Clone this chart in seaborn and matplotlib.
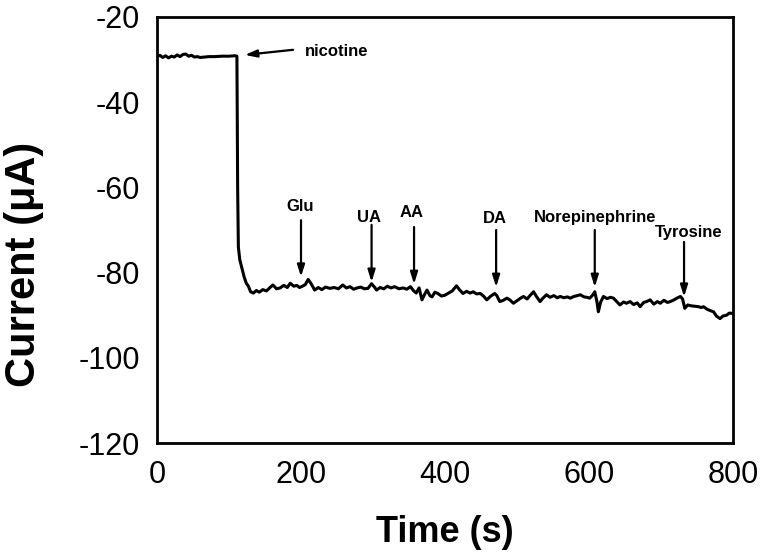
import matplotlib
matplotlib.use("Agg")
import matplotlib.pyplot as plt
import pandas as pd
import numpy as np
import seaborn as sns
from matplotlib.ticker import MultipleLocator

# amperometric trace
time_s = [0, 4, 8, 12, 16, 20, 24, 28, 32, 36, 40, 44, 48, 52, 56, 60, 66, 72, 80, 90, 100, 108, 111,
          112, 113, 115, 118, 121, 124, 127, 130, 134, 138, 142, 147, 152, 157, 161, 166, 171, 176,
          181, 185, 190, 194, 198, 202, 206, 210, 214, 219, 224, 229, 234, 240, 246, 252, 258, 263,
          268, 273, 278, 283, 288, 293, 298, 302, 305, 310, 315, 320, 325, 330, 336, 342, 347, 352,
          356, 360, 364, 368, 372, 375, 379, 382, 386, 390, 395, 400, 405, 410, 416, 420, 425, 430,
          435, 439, 444, 449, 454, 458, 463, 469, 472, 476, 481, 486, 490, 495, 500, 505, 509, 514,
          518, 523, 527, 532, 536, 541, 546, 551, 556, 560, 565, 570, 574, 579, 584, 588, 593, 597,
          601, 605, 608, 611, 613, 616, 620, 625, 630, 634, 639, 643, 648, 652, 657, 662, 667, 671,
          676, 680, 685, 690, 695, 699, 704, 709, 713, 718, 722, 727, 730, 733, 737, 742, 747, 752,
          756, 759, 764, 768, 773, 777, 782, 786, 791, 795, 800]
current_ua = [-29.3, -29.0, -29.5, -29.1, -29.6, -29.2, -29.4, -28.9, -29.3, -28.8, -28.7, -29.2,
              -29.0, -29.4, -29.3, -29.5, -29.4, -29.3, -29.3, -29.2, -29.2, -29.1, -29.2,
              -60.0, -74.0, -77.0, -79.0, -81.0, -82.5, -83.2, -84.5, -84.8, -84.2, -84.6, -84.0,
              -84.3, -83.5, -82.9, -83.8, -83.6, -83.0, -83.5, -82.5, -83.2, -83.0, -83.5, -83.2,
              -82.8, -81.6, -82.6, -84.1, -83.5, -84.0, -83.4, -83.7, -83.5, -83.8, -82.9, -83.6,
              -83.3, -83.9, -83.6, -83.4, -83.8, -83.7, -82.6, -83.4, -84.1, -83.5, -83.8, -83.2,
              -83.6, -83.3, -83.8, -83.6, -83.9, -83.3, -84.2, -84.8, -83.6, -86.4, -85.0, -84.1,
              -85.4, -85.7, -84.6, -84.9, -85.5, -85.3, -84.8, -84.3, -83.1, -84.0, -84.9, -84.4,
              -84.8, -84.5, -85.0, -84.9, -85.6, -86.4, -85.6, -84.9, -85.4, -86.8, -86.5, -86.0,
              -86.4, -87.2, -86.6, -86.0, -85.6, -86.2, -85.4, -84.5, -85.6, -86.8, -86.0, -85.2,
              -85.8, -85.4, -85.9, -85.6, -85.9, -85.7, -86.0, -85.6, -85.4, -85.2, -85.7, -85.8,
              -86.0, -85.3, -84.5, -86.8, -89.2, -87.0, -85.6, -86.1, -85.8, -86.0, -86.9, -87.6,
              -86.9, -87.2, -86.8, -87.5, -87.1, -88.0, -87.0, -86.8, -86.4, -87.4, -86.8, -87.2,
              -86.5, -87.0, -86.8, -86.4, -86.0, -85.6, -86.2, -88.4, -87.6, -87.8, -87.9, -88.0,
              -88.2, -88.0, -88.6, -88.9, -89.2, -90.2, -90.8, -90.2, -90.0, -89.5, -89.6]

# additions marked with arrows
labels = ["Glu", "UA", "AA", "DA", "Norepinephrine", "Tyrosine"]
arrow_x = [200, 298, 357, 471, 608, 732]
label_x = [199, 294, 354, 469, 608, 739]
label_y = [-64.6, -67.0, -65.8, -67.2, -67.0, -70.7]
arrow_top = [-67.7, -68.8, -69.3, -70.0, -70.0, -72.8]
arrow_tip = [-81.0, -82.2, -82.7, -83.4, -83.4, -85.7]

df = pd.DataFrame({"Time (s)": time_s, "Current": current_ua})

sns.set_style("white")
plt.rcParams["font.family"] = ["Liberation Sans", "DejaVu Sans"]
plt.rcParams["axes.unicode_minus"] = False
plt.rcParams["text.color"] = "black"
plt.rcParams["axes.labelcolor"] = "black"
plt.rcParams["xtick.color"] = "black"
plt.rcParams["ytick.color"] = "black"

fig = plt.figure(figsize=(7.65, 5.56), dpi=100)
ax = fig.add_axes([157 / 765, 1 - 443 / 556, 576 / 765, 426 / 556])

sns.lineplot(data=df, x="Time (s)", y="Current", color="black", linewidth=2.2,
             estimator=None, ax=ax)

ax.set_xlim(0, 800)
ax.set_ylim(-120, -20)
ax.xaxis.set_major_locator(MultipleLocator(200))
ax.xaxis.set_minor_locator(MultipleLocator(100))
ax.yaxis.set_major_locator(MultipleLocator(20))
ax.yaxis.set_minor_locator(MultipleLocator(10))
ax.tick_params(which="both", direction="out", width=1.8, labelsize=22, color="black",
               labelcolor="black", top=False, right=False)
ax.tick_params(which="major", length=8, pad=4)
ax.tick_params(which="minor", length=5)
for sp in ax.spines.values():
    sp.set_linewidth(2)
    sp.set_color("black")

ax.set_xlabel("Time (s)", fontsize=26, fontweight="bold")
ax.set_ylabel("Current (\u03bcA)", fontsize=30, fontweight="bold")
ax.xaxis.set_label_coords(0.5, -0.17)
ax.yaxis.set_label_coords(-0.197, 0.42)

arrow_kw = dict(arrowstyle="-|>,head_length=0.7,head_width=0.22", color="black",
                lw=1.6, shrinkA=0, shrinkB=0)

ax.annotate("", xy=(122, -28.9), xytext=(189, -27.7), arrowprops=arrow_kw)
ax.text(205, -28.2, "nicotine", fontsize=12, fontweight="bold", ha="left", va="center")

for lab, ax_x, lx, ly, top, tip in zip(labels, arrow_x, label_x, label_y, arrow_top, arrow_tip):
    ax.annotate("", xy=(ax_x, tip), xytext=(ax_x, top), arrowprops=arrow_kw)
    ax.text(lx, ly, lab, fontsize=12, fontweight="bold", ha="center", va="center")

fig.savefig("out.png", dpi=100)
